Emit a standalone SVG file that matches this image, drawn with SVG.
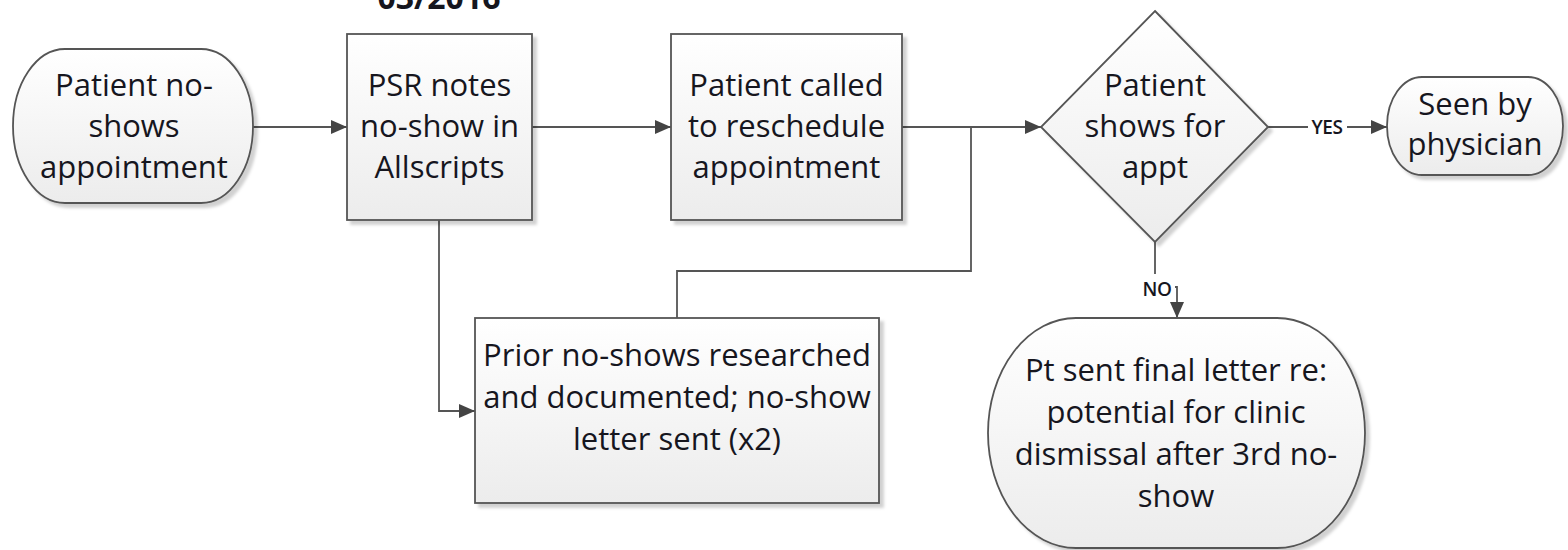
<svg xmlns="http://www.w3.org/2000/svg" width="1568" height="550" viewBox="0 0 1568 550">
<style>
.shape{fill:url(#g);stroke:#555;stroke-width:1.8;filter:url(#sh)}
.t{font-family:"Open Sans","Liberation Sans",sans-serif;font-size:31px;fill:#16161e;text-anchor:middle}
.lbl{font-family:"Open Sans","Liberation Sans",sans-serif;font-size:19px;font-weight:600;letter-spacing:-0.5px;fill:#16161e;text-anchor:middle}
.c{fill:none;stroke:#555;stroke-width:1.8}
.ca{fill:none;stroke:#555;stroke-width:1.8;marker-end:url(#ah)}
</style>
<defs>
<linearGradient id="g" x1="0" y1="0" x2="0" y2="1">
<stop offset="0" stop-color="#ffffff"/>
<stop offset="1" stop-color="#ececec"/>
</linearGradient>
<filter id="sh" x="-10%" y="-10%" width="130%" height="130%">
<feDropShadow dx="4" dy="4" stdDeviation="1.5" flood-color="#000" flood-opacity="0.18"/>
</filter>
<marker id="ah" markerUnits="userSpaceOnUse" markerWidth="17" markerHeight="16" refX="16" refY="8" orient="auto">
<path d="M0,1 L16,8 L0,15 z" fill="#444"/>
</marker>
</defs>
<rect width="1568" height="550" fill="#fff"/>
<text x="439" y="9" style="font-family:'Open Sans','Liberation Sans',sans-serif;font-size:32px;font-weight:bold;fill:#16161e;text-anchor:middle">03/2016</text>

<g id="connectors">
<path class="ca" d="M253,127 H347"/>
<path class="ca" d="M532,127 H671"/>
<path class="ca" d="M902,127 H1041"/>
<path class="c" d="M971,127 V271 H677 V318"/>
<path class="ca" d="M439,220 V411 H475"/>
<path class="ca" d="M1268,127 H1387"/>
<rect x="1308" y="116" width="39" height="22" fill="#fff"/>
<text class="lbl" x="1327" y="134">YES</text>
<path class="ca" d="M1155,242 V287 H1177 V318"/>
<rect x="1140" y="274" width="35" height="24" fill="#fff"/>
<text class="lbl" x="1157" y="296">NO</text>
</g>

<g id="n1">
<rect class="shape" x="13" y="49" width="240" height="154" rx="52" ry="77"/>
<text class="t" x="134" y="96">Patient no-</text>
<text class="t" x="134" y="137">shows</text>
<text class="t" x="134" y="178">appointment</text>
</g>

<g id="n2">
<rect class="shape" x="347" y="34" width="185" height="186"/>
<text class="t" x="439.5" y="96">PSR notes</text>
<text class="t" x="439.5" y="137">no-show in</text>
<text class="t" x="439.5" y="178">Allscripts</text>
</g>

<g id="n3">
<rect class="shape" x="671" y="34" width="231" height="186"/>
<text class="t" x="786.5" y="96">Patient called</text>
<text class="t" x="786.5" y="137">to reschedule</text>
<text class="t" x="786.5" y="178">appointment</text>
</g>

<g id="n4">
<polygon class="shape" points="1155,11 1268,127 1155,242 1041,127"/>
<text class="t" x="1155" y="96">Patient</text>
<text class="t" x="1155" y="137">shows for</text>
<text class="t" x="1155" y="178">appt</text>
</g>

<g id="n5">
<rect class="shape" x="1387" y="77" width="176" height="98" rx="35" ry="49"/>
<text class="t" x="1475" y="115">Seen by</text>
<text class="t" x="1475" y="155">physician</text>
</g>

<g id="n6">
<rect class="shape" x="475" y="318" width="404" height="185"/>
<text class="t" x="677" y="366">Prior no-shows researched</text>
<text class="t" x="677" y="408">and documented; no-show</text>
<text class="t" x="677" y="450">letter sent (x2)</text>
</g>

<g id="n7">
<rect class="shape" x="988" y="318" width="377" height="230" rx="88" ry="115"/>
<text class="t" x="1176" y="381">Pt sent final letter re:</text>
<text class="t" x="1176" y="423">potential for clinic</text>
<text class="t" x="1176" y="465">dismissal after 3rd no-</text>
<text class="t" x="1176" y="507">show</text>
</g>
</svg>
